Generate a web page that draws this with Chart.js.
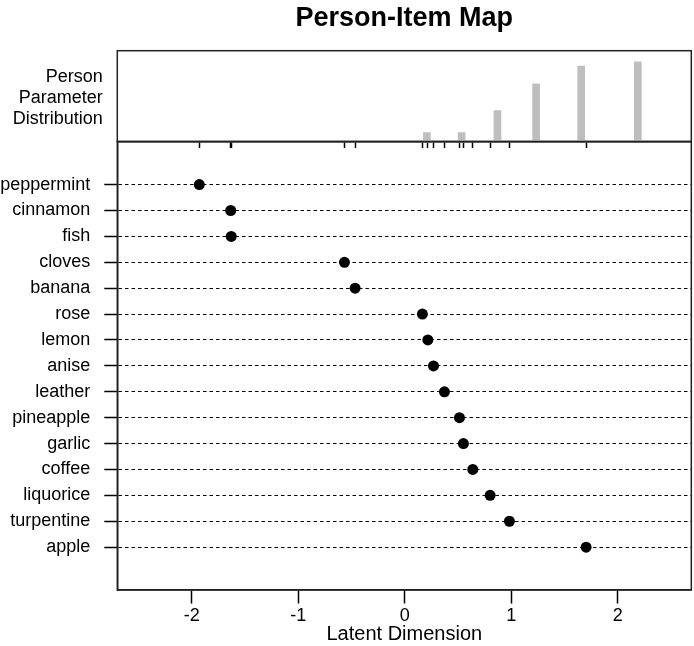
<!DOCTYPE html>
<html>
<head>
<meta charset="utf-8">
<script src="https://cdn.jsdelivr.net/npm/chart.js@4.4.1/dist/chart.umd.min.js"></script>
<style>
  html, body { margin: 0; padding: 0; background: #fff; }
  #wrap { position: relative; width: 694px; height: 646px; }
  canvas { position: absolute; left: 0; top: 0; }
</style>
</head>
<body>
<div id="wrap">
  <canvas id="items" width="694" height="646"></canvas>
  <canvas id="persons" width="694" height="150"></canvas>
</div>
<script>
// Item locations (difficulty), top to bottom
const itemNames = ['peppermint', 'cinnamon', 'fish', 'cloves', 'banana', 'rose', 'lemon', 'anise',
    'leather', 'pineapple', 'garlic', 'coffee', 'liquorice', 'turpentine', 'apple'];
const itemLocations = [-1.93, -1.635, -1.63, -0.567, -0.467, 0.165, 0.216, 0.269,
    0.372, 0.513, 0.55, 0.638, 0.801, 0.982, 1.702];

// Person parameter distribution (bar positions and heights)
const personLocations = [0.207, 0.533, 0.87, 1.233, 1.656, 2.188];
const personCounts = [2, 2, 7, 13, 17, 18];

const xTicks = [-2, -1, 0, 1, 2];
const sideLabel = ['Person', 'Parameter', 'Distribution'];

const X_MIN = -2.7;
const X_MAX = 2.69;
const FONT = '"Liberation Sans", Arial, Helvetica, sans-serif';

Chart.defaults.font.family = FONT;
Chart.defaults.color = '#000';

// box round the plot region, like R's box()
const frame = {
    id: 'frame',
    afterDraw(chart) {
        const { left, top, right, bottom } = chart.chartArea;
        const ctx = chart.ctx;
        ctx.save();
        ctx.strokeStyle = '#222';
        ctx.lineWidth = 1.5;
        ctx.strokeRect(left, top, right - left, bottom - top);
        ctx.restore();
    }
};

// horizontal label left of the histogram
const sideText = {
    id: 'sideText',
    afterDraw(chart) {
        const ctx = chart.ctx;
        const area = chart.chartArea;
        const mid = (area.top + area.bottom) / 2 + 2;
        ctx.save();
        ctx.font = '18px ' + FONT;
        ctx.fillStyle = '#000';
        ctx.textAlign = 'right';
        ctx.textBaseline = 'middle';
        sideLabel.forEach((t, i) => ctx.fillText(t, area.left - 14.6, mid + (i - 1) * 21.2));
        ctx.restore();
    }
};

// lower panel: item map
new Chart(document.getElementById('items'), {
    type: 'scatter',
    data: {
        datasets: [{
            data: itemNames.map((n, i) => ({ x: itemLocations[i], y: i })),
            pointRadius: 5.5,
            pointHoverRadius: 5.5,
            backgroundColor: '#000',
            borderColor: '#000',
            borderWidth: 0
        }]
    },
    options: {
        responsive: false,
        animation: false,
        layout: { autoPadding: false, padding: { top: 141.5, right: 2.7, left: 0, bottom: 0 } },
        plugins: { legend: { display: false }, tooltip: { enabled: false } },
        scales: {
            x: {
                type: 'linear',
                min: X_MIN,
                max: X_MAX,
                afterBuildTicks: s => { s.ticks = xTicks.map(v => ({ value: v })); },
                afterFit: s => { s.height = 56; },
                grid: { drawOnChartArea: false, tickLength: 13.5, tickColor: '#000', tickWidth: 1.5 },
                border: { color: '#222', width: 1.5 },
                ticks: { color: '#000', font: { size: 18 }, padding: 2, maxRotation: 0 },
                title: {
                    display: true,
                    text: 'Latent Dimension',
                    color: '#000',
                    font: { size: 20 },
                    padding: { top: 0, bottom: 0 }
                }
            },
            y: {
                type: 'linear',
                reverse: true,
                min: -1.665,
                max: 15.655,
                afterBuildTicks: s => { s.ticks = itemNames.map((n, i) => ({ value: i })); },
                afterFit: s => { s.width = 117.3; },
                ticks: { callback: v => itemNames[v], color: '#000', font: { size: 18 }, padding: 14, autoSkip: false },
                grid: { color: '#000', lineWidth: 1, tickLength: 13, tickColor: '#000', tickWidth: 1.5, tickBorderDash: [] },
                border: { color: '#222', width: 1.5, dash: [3.5, 3] }
            }
        }
    },
    plugins: [frame]
});

// upper panel: person parameter histogram, rug of item locations on its base line
new Chart(document.getElementById('persons'), {
    type: 'bar',
    data: {
        datasets: [{
            data: personLocations.map((x, i) => ({ x: x, y: personCounts[i] })),
            backgroundColor: '#bebebe',
            barThickness: 7
        }]
    },
    options: {
        responsive: false,
        animation: false,
        layout: { autoPadding: false, padding: { left: 117.3, right: 2.7, top: 0, bottom: 0 } },
        plugins: {
            legend: { display: false },
            tooltip: { enabled: false },
            title: {
                display: true,
                text: 'Person-Item Map',
                color: '#000',
                font: { size: 27, weight: 'bold' },
                padding: { top: 2, bottom: 16.3 }
            }
        },
        scales: {
            x: {
                type: 'linear',
                min: X_MIN,
                max: X_MAX,
                offset: false,
                afterBuildTicks: s => { s.ticks = itemLocations.map(v => ({ value: v })); },
                afterFit: s => { s.height = 8.5; },
                ticks: { display: false },
                grid: { offset: false, drawOnChartArea: false, tickLength: 6.5, tickColor: '#000', tickWidth: 1.5 },
                border: { color: '#222', width: 1.5 }
            },
            y: { display: false, min: 0, max: 20.5 }
        }
    },
    plugins: [frame, sideText]
});
</script>
</body>
</html>
